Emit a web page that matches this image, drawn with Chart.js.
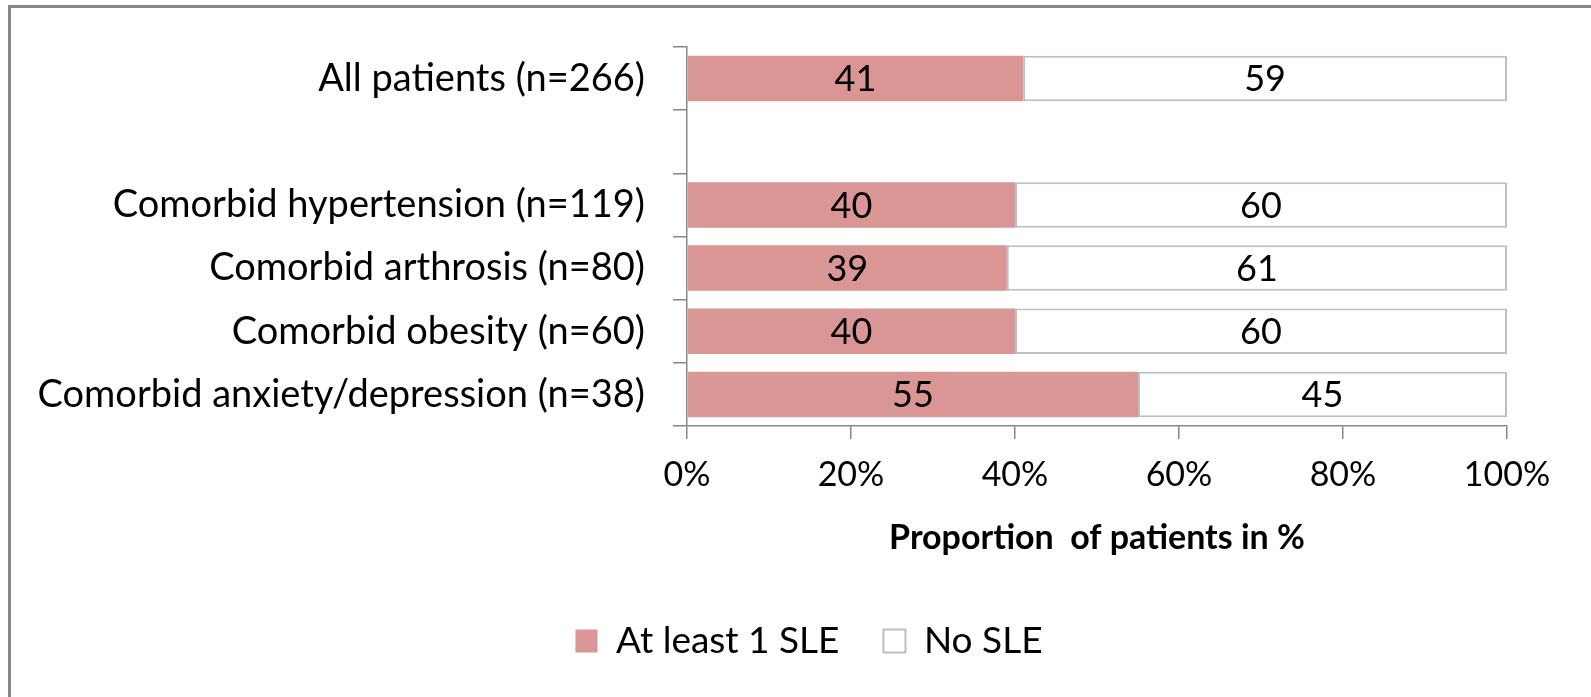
<!DOCTYPE html>
<html><head><meta charset="utf-8">
<script src="https://cdn.jsdelivr.net/npm/chart.js@4"></script>
<style>
html,body{margin:0;padding:0;background:#fff;overflow:hidden;}
#frame{position:absolute;left:8px;top:5px;width:1700px;height:800px;border-top:3px solid #878787;border-left:3px solid #878787;}
#wrap{position:absolute;left:0;top:0;width:1591px;height:697px;}
</style></head><body>
<div id="frame"></div>
<div id="wrap"><canvas id="c" width="1591" height="697"></canvas></div>
<script>
const categories = ['All patients (n=266)', '', 'Comorbid hypertension (n=119)', 'Comorbid arthrosis (n=80)', 'Comorbid obesity (n=60)', 'Comorbid anxiety/depression (n=38)'];
const atLeastOneSLE = [41, null, 40, 39, 40, 55];
const noSLE = [59, null, 60, 61, 60, 45];
const xTickValues = [0, 20, 40, 60, 80, 100];
const seriesNames = ['At least 1 SLE', 'No SLE'];
const axisTitle = 'Proportion  of patients in %';

const FONT = 'Lato, "Open Sans", sans-serif';
const AXIS = '#878787';

const barLabels = {
  id: 'barLabels',
  afterDatasetsDraw(chart) {
    const ctx = chart.ctx;
    ctx.save();
    ctx.font = '36px ' + FONT;
    ctx.fillStyle = '#000';
    ctx.textAlign = 'center';
    ctx.textBaseline = 'middle';
    chart.data.datasets.forEach((ds, di) => {
      const meta = chart.getDatasetMeta(di);
      meta.data.forEach((el, i) => {
        const v = ds.data[i];
        if (v === null || v === undefined) return;
        const p = el.getCenterPoint();
        ctx.fillText(String(v), p.x, p.y + 1);
      });
    });
    ctx.restore();
  }
};

// shift the legend block so it is centred like the original
const legendShift = {
  id: 'legendShift',
  afterLayout(chart) {
    if (chart.legend) { chart.legend.left += 111; }
  }
};

new Chart(document.getElementById('c'), {
  type: 'bar',
  data: {
    labels: categories,
    datasets: [
      { label: seriesNames[0], data: atLeastOneSLE, backgroundColor: '#D99694', borderWidth: 0,
        barPercentage: 0.72, categoryPercentage: 1 },
      { label: seriesNames[1], data: noSLE, backgroundColor: '#FFFFFF', borderColor: '#BFBFBF', borderWidth: 2,
        borderSkipped: false, barPercentage: 0.72, categoryPercentage: 1 }
    ]
  },
  plugins: [barLabels, legendShift],
  options: {
    indexAxis: 'y',
    responsive: false,
    animation: false,
    layout: { padding: { left: 0, right: 84, top: 47, bottom: 27.5 } },
    scales: {
      x: {
        stacked: true, min: 0, max: 100,
        afterBuildTicks(scale) { scale.ticks = xTickValues.map(v => ({ value: v })); },
        afterFit(scale) { scale.height = 152.5; },
        grid: { drawOnChartArea: false, drawTicks: true, tickLength: 13, color: AXIS, lineWidth: 1.5 },
        border: { color: AXIS, width: 1.5 },
        ticks: { color: '#000', font: { family: FONT, size: 34 }, padding: 16, callback: v => v + '%', maxRotation: 0 },
        title: { display: true, text: axisTitle, color: '#000', font: { family: FONT, size: 34, weight: 'bold' },
                 padding: { top: 10, bottom: 20.2 } }
      },
      y: {
        stacked: true, offset: true,
        afterFit(scale) { scale.width = 687; scale.paddingTop = 0; scale.paddingBottom = 0; },
        grid: { offset: true, drawOnChartArea: false, drawTicks: true, tickLength: 14, color: AXIS, lineWidth: 1.5 },
        border: { color: AXIS, width: 1.5 },
        ticks: { color: '#000', font: { family: FONT, size: 38 }, padding: 28 }
      }
    },
    plugins: {
      tooltip: { enabled: false },
      legend: {
        position: 'bottom',
        labels: { color: '#000', font: { family: FONT, size: 37 }, boxWidth: 22, boxHeight: 23, padding: 44 }
      }
    }
  }
});
</script>
</body></html>
